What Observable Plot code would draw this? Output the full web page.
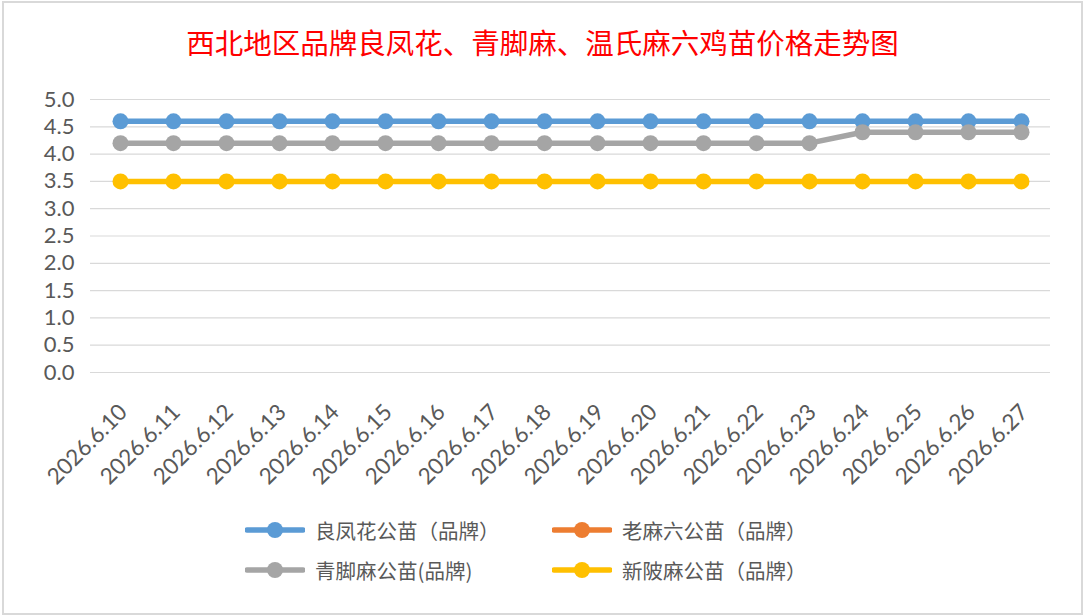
<!DOCTYPE html>
<html>
<head>
<meta charset="utf-8">
<script src="https://cdn.jsdelivr.net/npm/d3@7"></script>
<script src="https://cdn.jsdelivr.net/npm/@observablehq/plot@0.6"></script>
<style>
  html, body { margin: 0; padding: 0; background: #fff; }
  #frame { position: absolute; left: 2px; top: 1px; width: 1077px; height: 610px; border: 2px solid #d9d9d9; background: #fff; }
  #title { position: absolute; left: 0; width: 1085px; top: 22px; text-align: center; color: #ff0000; font-family: "Noto Sans CJK SC", sans-serif; font-size: 28.5px; line-height: 40px; }
  #chart { position: absolute; left: 0; top: 60px; }
  .leg { position: absolute; display: flex; align-items: center; font-family: "Noto Sans CJK SC", sans-serif; font-size: 20.5px; color: #595959; height: 30px; }
  .leg svg { margin-right: 10px; }
</style>
</head>
<body>
<div id="frame"></div>
<div id="title">西北地区品牌良凤花、青脚麻、温氏麻六鸡苗价格走势图</div>
<div id="chart"></div>
<div id="legend"></div>
<script>
const dates = ["2026.6.10","2026.6.11","2026.6.12","2026.6.13","2026.6.14","2026.6.15","2026.6.16","2026.6.17","2026.6.18","2026.6.19","2026.6.20","2026.6.21","2026.6.22","2026.6.23","2026.6.24","2026.6.25","2026.6.26","2026.6.27"];
const liangfenghua = [4.6,4.6,4.6,4.6,4.6,4.6,4.6,4.6,4.6,4.6,4.6,4.6,4.6,4.6,4.6,4.6,4.6,4.6];
const laomaliu = [];
const qingjiaoma = [4.2,4.2,4.2,4.2,4.2,4.2,4.2,4.2,4.2,4.2,4.2,4.2,4.2,4.2,4.4,4.4,4.4,4.4];
const xinpima = [3.5,3.5,3.5,3.5,3.5,3.5,3.5,3.5,3.5,3.5,3.5,3.5,3.5,3.5,3.5,3.5,3.5,3.5];
const yTicks = [0,0.5,1,1.5,2,2.5,3,3.5,4,4.5,5];

const seriesNames = ["良凤花公苗（品牌）","老麻六公苗（品牌）","青脚麻公苗(品牌)","新陂麻公苗（品牌）"];
const seriesColors = ["#5B9BD5","#ED7D31","#A5A5A5","#FFC000"];
const seriesValues = [liangfenghua, laomaliu, qingjiaoma, xinpima];

const rows = [];
seriesValues.forEach((vals, si) => vals.forEach((v, i) => rows.push({series: seriesNames[si], date: dates[i], value: v})));

const marks = [
  Plot.gridY(yTicks, {stroke: "#d9d9d9", strokeOpacity: 1, strokeWidth: 1.2}),
  Plot.axisY(yTicks, {tickSize: 0, tickPadding: 16, tickFormat: d3.format(".1f"), fontSize: 22, fill: "#595959"}),
  Plot.axisX({tickSize: 0, tickRotate: -45, tickPadding: 0, dy: 36, dx: 3, fontSize: 22.5, fill: "#595959"})
];
seriesNames.forEach((name, si) => {
  const d = rows.filter(r => r.series === name);
  marks.push(Plot.line(d, {x: "date", y: "value", stroke: seriesColors[si], strokeWidth: 5.5}));
  marks.push(Plot.dot(d, {x: "date", y: "value", fill: seriesColors[si], r: 8}));
});

const chart = Plot.plot({
  width: 1085,
  height: 440,
  marginLeft: 90,
  marginRight: 35,
  marginTop: 39,
  marginBottom: 128,
  style: {fontFamily: "Lato, 'Noto Sans CJK SC', sans-serif", background: "transparent"},
  x: {type: "point", domain: dates, padding: 0.5, label: null},
  y: {domain: [0, 5], label: null},
  marks
});
document.getElementById("chart").appendChild(chart);

const legendPos = [[245, 530], [552, 530], [245, 570], [552, 570]];
const legend = document.getElementById("legend");
seriesNames.forEach((name, i) => {
  const div = document.createElement("div");
  div.className = "leg";
  div.style.left = legendPos[i][0] + "px";
  div.style.top = (legendPos[i][1] - 15) + "px";
  div.innerHTML = `<svg width="60" height="20"><line x1="2" y1="10" x2="58" y2="10" stroke="${seriesColors[i]}" stroke-width="5.5" stroke-linecap="round"/><circle cx="30" cy="10" r="8" fill="${seriesColors[i]}"/></svg><span>${name}</span>`;
  legend.appendChild(div);
});
</script>
</body>
</html>
